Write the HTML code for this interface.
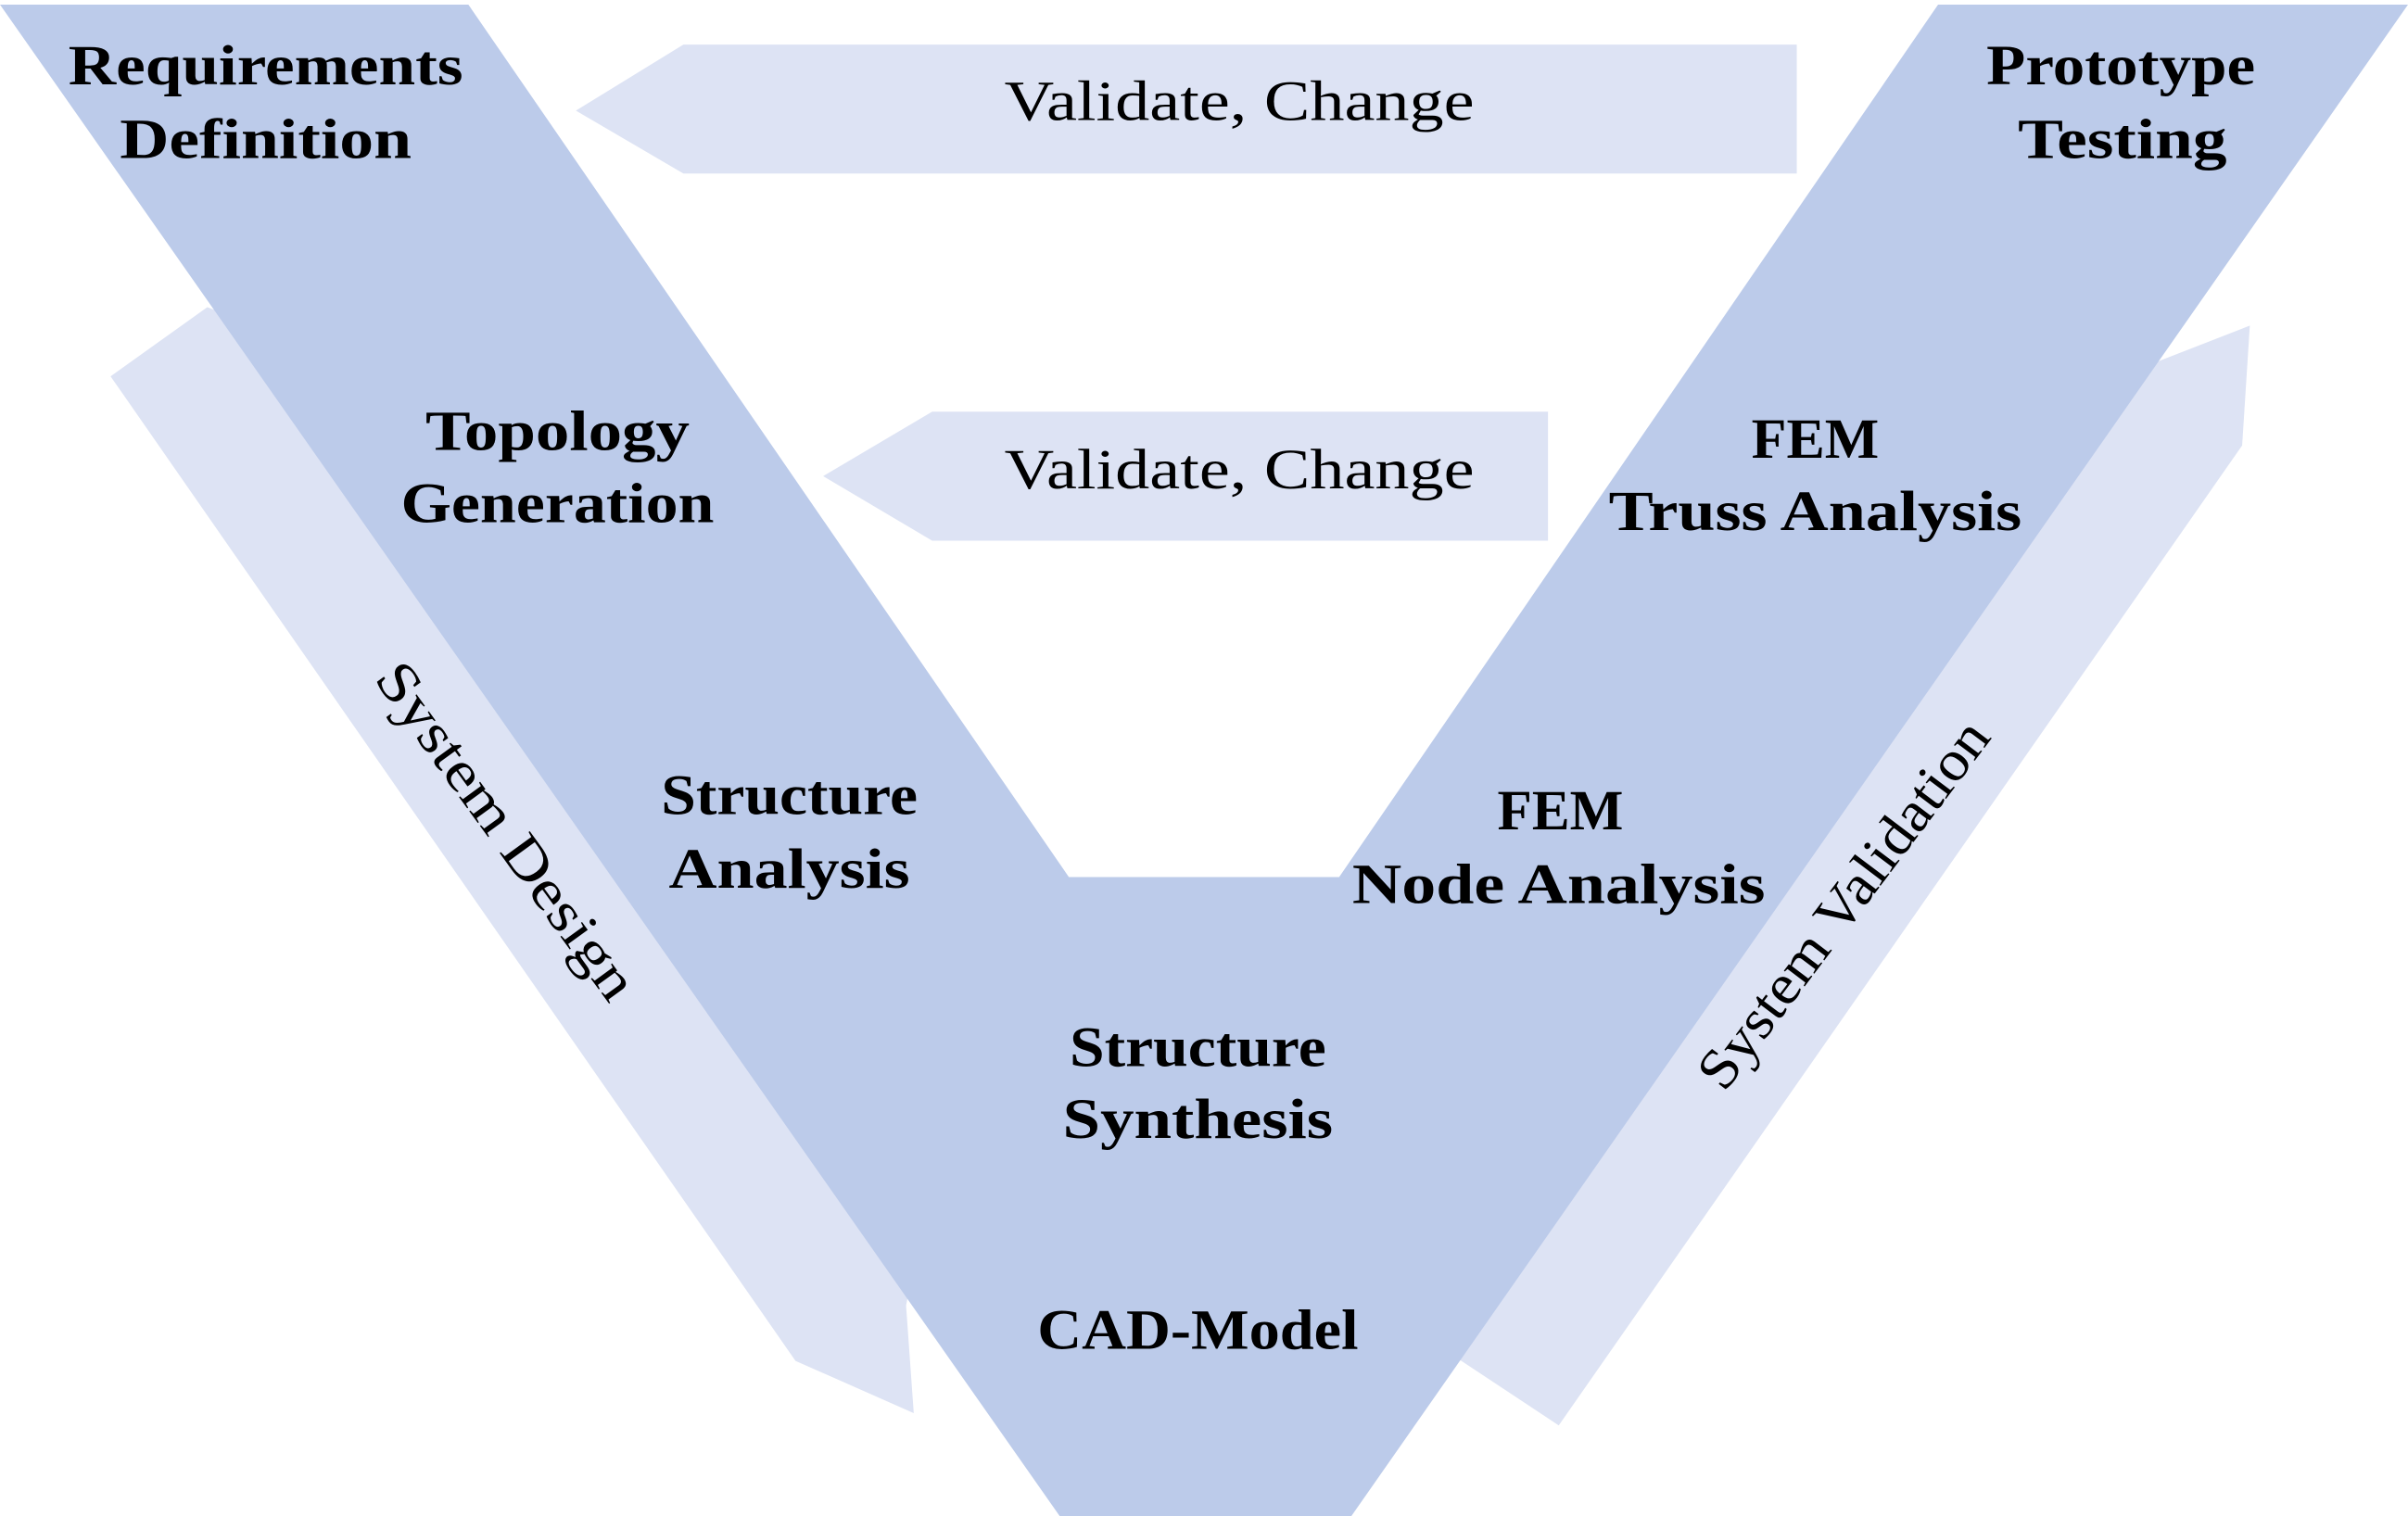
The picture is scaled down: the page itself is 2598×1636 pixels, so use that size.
<!DOCTYPE html>
<html><head><meta charset="utf-8"><style>html,body{margin:0;padding:0;background:#fff}svg{display:block}</style></head>
<body>
<svg width="2598" height="1636" viewBox="0 0 1568 987" preserveAspectRatio="none" xmlns="http://www.w3.org/2000/svg">
<g fill="#dde3f4">
<polygon points="72,245 135,200 400,300 600,800 590,850 595,920 518,886"/>
<polygon points="1406,235 1465,212 1460,290 1015,928 950,885 900,800 1150,400"/>
<polygon points="375,72 445,29 1170,29 1170,113 445,113"/>
<polygon points="536,310 607,268 1008,268 1008,352 607,352"/>
</g>
<polygon fill="#bccbea" points="0,3 305,3 696,571 872,571 1262,3 1568,3 880,987 690,987"/>
<g font-family="Liberation Serif, serif" font-weight="bold" font-size="37" fill="#000" text-anchor="middle">
<text x="173" y="55" textLength="257" lengthAdjust="spacingAndGlyphs">Requirements</text>
<text x="173" y="103" textLength="190" lengthAdjust="spacingAndGlyphs">Definition</text>
<text x="1381" y="55" textLength="175" lengthAdjust="spacingAndGlyphs">Prototype</text>
<text x="1382" y="103" textLength="136" lengthAdjust="spacingAndGlyphs">Testing</text>
<text x="363" y="293" textLength="172" lengthAdjust="spacingAndGlyphs">Topology</text>
<text x="363" y="340" textLength="204" lengthAdjust="spacingAndGlyphs">Generation</text>
<text x="1182" y="298" textLength="83" lengthAdjust="spacingAndGlyphs">FEM</text>
<text x="1182" y="345" textLength="269" lengthAdjust="spacingAndGlyphs">Truss Analysis</text>
<text x="514" y="530" textLength="167" lengthAdjust="spacingAndGlyphs">Structure</text>
<text x="514" y="578" textLength="157" lengthAdjust="spacingAndGlyphs">Analysis</text>
<text x="1016" y="540" textLength="82" lengthAdjust="spacingAndGlyphs">FEM</text>
<text x="1015" y="588" textLength="269" lengthAdjust="spacingAndGlyphs">Node Analysis</text>
<text x="780" y="694" textLength="167" lengthAdjust="spacingAndGlyphs">Structure</text>
<text x="780" y="741" textLength="176" lengthAdjust="spacingAndGlyphs">Synthesis</text>
<text x="780" y="878" textLength="209" lengthAdjust="spacingAndGlyphs">CAD-Model</text>
</g>
<g font-family="Liberation Serif, serif" font-size="37" fill="#000" text-anchor="middle">
<text x="807" y="78" textLength="306" lengthAdjust="spacingAndGlyphs">Validate, Change</text>
<text x="807" y="318" textLength="306" lengthAdjust="spacingAndGlyphs">Validate, Change</text>
<text transform="translate(320,548) rotate(54)" x="0" y="0" textLength="262" lengthAdjust="spacingAndGlyphs">System Design</text>
<text transform="translate(1210,596) rotate(-53)" x="0" y="0" textLength="290" lengthAdjust="spacingAndGlyphs">System Validation</text>
</g>
</svg>
</body></html>
